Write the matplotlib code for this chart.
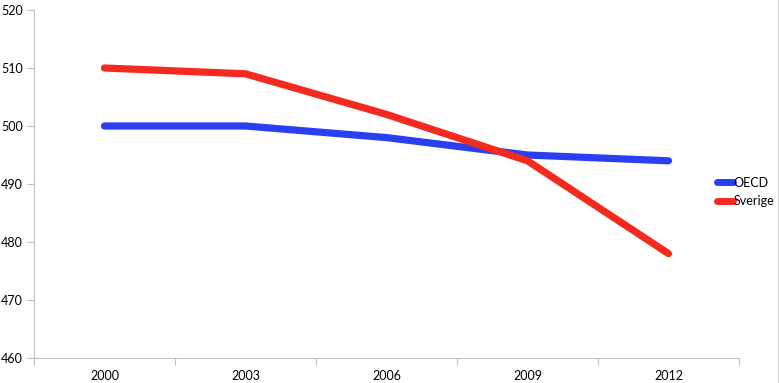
import numpy as np
import matplotlib.pyplot as plt
from matplotlib.lines import Line2D

plt.rcParams['font.family'] = ['Lato', 'DejaVu Sans']

# data
years = ['2000', '2003', '2006', '2009', '2012']
oecd = [500, 500, 498, 495, 494]
sverige = [510, 509, 502, 494, 478]

blue = '#2b3ff2'
red = '#f52a1f'
grey = '#bfbfbf'

fig = plt.figure(figsize=(7.8, 3.83), dpi=100)
ax = fig.add_axes([34 / 780, 1 - 358 / 383, (739 - 34) / 780, (358 - 10) / 383])

x = np.arange(len(years))
ax.plot(x, oecd, color=blue, lw=5.2, solid_capstyle='round', solid_joinstyle='round')
ax.plot(x, sverige, color=red, lw=5.2, solid_capstyle='round', solid_joinstyle='round')

ax.set_xlim(-0.5, len(years) - 0.5)
ax.set_ylim(460, 520)
ax.set_yticks(np.arange(460, 521, 10))

# category labels in the middle, tick marks between categories
ax.set_xticks(x)
ax.set_xticklabels(years)
ax.set_xticks(np.arange(-0.5, len(years), 1), minor=True)
ax.tick_params(axis='x', which='major', length=0, pad=8.5)
ax.tick_params(axis='x', which='minor', length=5, color=grey, width=0.8)
ax.tick_params(axis='y', length=5, color=grey, width=0.8, pad=3)
ax.tick_params(labelsize=9, labelcolor='black')

for s in ['top', 'right']:
    ax.spines[s].set_visible(False)
for s in ['left', 'bottom']:
    ax.spines[s].set_color(grey)
    ax.spines[s].set_linewidth(0.8)

handles = [Line2D([], [], color=blue, lw=5, solid_capstyle='round'),
           Line2D([], [], color=red, lw=5, solid_capstyle='round')]
fig.legend(handles, ['OECD', 'Sverige'], loc='center left',
           bbox_to_anchor=(712 / 780, 1 - 192 / 383), frameon=False,
           fontsize=9, handlelength=1.3, handletextpad=0.05,
           labelspacing=0.55, borderaxespad=0)

# thin chart border on the right side
fig.add_artist(Line2D([778 / 780, 778 / 780], [0, 1], color='#d9d9d9', lw=0.8,
                      transform=fig.transFigure))

fig.savefig('out.png', dpi=100)
